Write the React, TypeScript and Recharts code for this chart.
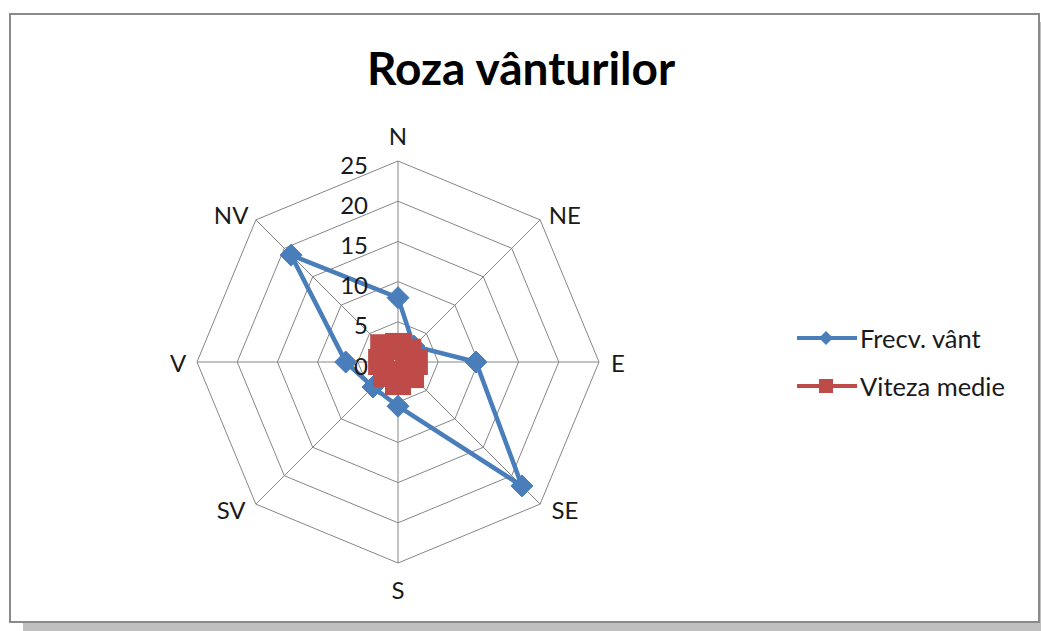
import {
  Legend,
  PolarAngleAxis,
  PolarGrid,
  PolarRadiusAxis,
  Radar,
  RadarChart,
} from "recharts";

const DIRECTIONS = ["N", "NE", "E", "SE", "S", "SV", "V", "NV"];
const FRECV_VANT = [8, 2.8, 9.7, 21.8, 5.5, 4.4, 6.5, 18.8];
const VITEZA_MEDIE = [2.0, 1.8, 2.1, 2.3, 2.5, 2.1, 2.1, 2.6];
const RADIUS_TICKS = [0, 5, 10, 15, 20, 25];

const BLUE = "#4a7ebb";
const RED = "#be4b48";
const GRID = "#868686";
const TEXT = "#1a1a1a";
const FONT = "Lato, 'Open Sans', sans-serif";

const CX = 398;
const CY = 362;
const OUTER = 201;

const data = DIRECTIONS.map((dir, i) => ({
  dir,
  frecv: FRECV_VANT[i],
  viteza: VITEZA_MEDIE[i],
}));

function AngleTick(props: any) {
  const { x, y, payload } = props;
  const dx = x - CX;
  const dy = y - CY;
  const len = Math.sqrt(dx * dx + dy * dy) || 1;
  const ux = dx / len;
  const uy = dy / len;
  // labels sit a bit wider than tall around the web
  const distX = 220 + 32 * uy * uy;
  const distY = 227 - 38 * ux * ux;
  return (
    <text
      x={CX + ux * distX}
      y={CY + uy * distY}
      textAnchor="middle"
      dominantBaseline="central"
      fontFamily={FONT}
      fontSize={24}
      fill={TEXT}
    >
      {payload.value}
    </text>
  );
}

function RadiusTick(props: any) {
  const { x, y, payload } = props;
  return (
    <text
      x={x - 30}
      y={y + 3}
      textAnchor="end"
      dominantBaseline="central"
      fontFamily={FONT}
      fontSize={24}
      fill={TEXT}
    >
      {payload.value}
    </text>
  );
}

function Diamond(props: any) {
  const { cx, cy } = props;
  const h = 11;
  return (
    <polygon
      key={`dia-${cx}-${cy}`}
      points={`${cx},${cy - h} ${cx + h},${cy} ${cx},${cy + h} ${cx - h},${cy}`}
      fill={BLUE}
      stroke={BLUE}
    />
  );
}

function Square(props: any) {
  const { cx, cy } = props;
  const h = 13;
  return (
    <rect
      key={`sq-${cx}-${cy}`}
      x={cx - h}
      y={cy - h}
      width={h * 2}
      height={h * 2}
      fill={RED}
    />
  );
}

function LegendContent() {
  const rows = [
    { name: "Frecv. vânt", color: BLUE, marker: "diamond" },
    { name: "Viteza medie", color: RED, marker: "square" },
  ];
  return (
    <div>
      {rows.map((r) => (
        <div
          key={r.name}
          style={{ display: "flex", alignItems: "center", height: 48 }}
        >
          <svg width={64} height={24}>
            <line x1={2} y1={12} x2={62} y2={12} stroke={r.color} strokeWidth={4} />
            {r.marker === "diamond" ? (
              <polygon points="31,5 38,12 31,19 24,12" fill={r.color} />
            ) : (
              <rect x={24} y={5} width={14} height={14} fill={r.color} />
            )}
          </svg>
          <span
            style={{
              fontFamily: FONT,
              fontSize: 25.5,
              color: TEXT,
              marginLeft: 1,
              whiteSpace: "nowrap",
            }}
          >
            {r.name}
          </span>
        </div>
      ))}
    </div>
  );
}

export default function App() {
  return (
    <div
      style={{
        position: "absolute",
        left: 0,
        top: 0,
        width: 1041,
        height: 631,
        overflow: "hidden",
        background: "#ffffff",
      }}
    >
      <div
        style={{
          position: "absolute",
          left: 9,
          top: 13,
          width: 1027,
          height: 606,
          border: "2px solid #8a8a8a",
          background: "#ffffff",
          boxShadow: "14px 9px 0 #c0c0c0",
        }}
      />
      <div
        style={{
          position: "absolute",
          left: 221,
          top: 40,
          width: 600,
          lineHeight: "56px",
          textAlign: "center",
          fontFamily: FONT,
          fontWeight: 700,
          fontSize: 46,
          color: "#000000",
        }}
      >
        Roza vânturilor
      </div>
      <div style={{ position: "absolute", left: 0, top: 0 }}>
        <RadarChart
          width={1041}
          height={631}
          data={data}
          cx={CX}
          cy={CY}
          outerRadius={OUTER}
          margin={{ top: 0, right: 0, bottom: 0, left: 0 }}
        >
          <PolarGrid gridType="polygon" stroke={GRID} strokeWidth={1} />
          <PolarAngleAxis
            dataKey="dir"
            tick={AngleTick}
            tickLine={false}
            axisLine={false}
          />
          <PolarRadiusAxis
            angle={90}
            domain={[0, 25]}
            ticks={RADIUS_TICKS}
            tickCount={6}
            tick={RadiusTick}
            tickLine={false}
            axisLine={false}
          />
          <Radar
            dataKey="frecv"
            name="Frecv. vânt"
            stroke={BLUE}
            strokeWidth={4.5}
            fill="none"
            fillOpacity={0}
            dot={Diamond}
            isAnimationActive={false}
          />
          <Radar
            dataKey="viteza"
            name="Viteza medie"
            stroke={RED}
            strokeWidth={4.5}
            fill="none"
            fillOpacity={0}
            dot={Square}
            isAnimationActive={false}
          />
          <Legend
            layout="vertical"
            content={LegendContent}
            wrapperStyle={{ position: "absolute", left: 795, top: 314, width: 240 }}
          />
        </RadarChart>
      </div>
    </div>
  );
}
